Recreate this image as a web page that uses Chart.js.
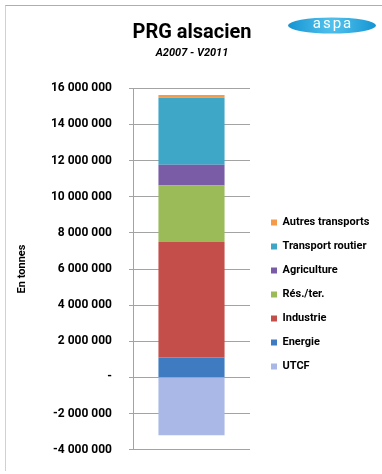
<!DOCTYPE html>
<html>
<head>
<meta charset="utf-8">
<title>PRG alsacien</title>
<script src="https://cdn.jsdelivr.net/npm/chart.js@4/dist/chart.umd.min.js"></script>
<style>
    body { margin: 0; background: #ffffff; }
    #wrap { position: relative; width: 382px; height: 474px; }
    #frame {
        position: absolute; left: 5px; top: 5px; right: 0; bottom: 3px;
        border-top: 1px solid #9fb2c4; border-left: 1px solid #c9d3dc;
    }
    #prgChart { position: absolute; left: 0; top: 0; }
</style>
</head>
<body>
<div id="wrap">
    <div id="frame"></div>
    <canvas id="prgChart" width="382" height="474"></canvas>
</div>
<script>
// Emissions PRG par secteur, en tonnes
let categories = [""];
let sectors = ["UTCF", "Energie", "Industrie", "Rés./ter.", "Agriculture", "Transport routier", "Autres transports"];
let utcf = [-3200000];
let energie = [1100000];
let industrie = [6400000];
let residentiel = [3120000];
let agriculture = [1150000];
let transportRoutier = [3700000];
let autresTransports = [150000];
let sectorColors = ["#a9b8e6", "#3f7bc1", "#c34e4a", "#9bbb59", "#7a5ca6", "#3ea7c7", "#f59a48"];
let yTicks = [-4000000, -2000000, 0, 2000000, 4000000, 6000000, 8000000, 10000000, 12000000, 14000000, 16000000];

const FONT = "Roboto";

let seriesValues = [utcf, energie, industrie, residentiel, agriculture, transportRoutier, autresTransports];
let datasets = sectors.map(function (name, i) {
    return {
        label: name,
        data: seriesValues[i],
        backgroundColor: sectorColors[i],
        borderWidth: 0,
        categoryPercentage: 1,
        barPercentage: 0.565
    };
});

function formatTonnes(v) {
    if (v === 0) return "-";
    return String(v).replace(/\B(?=(\d{3})+(?!\d))/g, " ");
}

// once the layout is done: titles centred on the whole page,
// legend put to the right of the plot
const placeBlocks = {
    id: "placeBlocks",
    afterLayout(chart) {
        chart.boxes.forEach(function (box) {
            if (box.options && box.options.position === "top") {
                box.left = 0;
                box.right = 384;
                box.width = 384;
            }
        });
        let legend = chart.legend;
        if (!legend) return;
        legend.left = 258;
        legend.right = 380;
        legend.top = 204;
        legend.bottom = 400;
    }
};

// aspa logo in the top right corner
const logo = {
    id: "logo",
    afterDraw(chart) {
        let ctx = chart.ctx;
        ctx.save();
        let grad = ctx.createRadialGradient(332, 24, 4, 332, 25, 44);
        grad.addColorStop(0, "#4fc0ec");
        grad.addColorStop(1, "#1594d2");
        ctx.fillStyle = grad;
        ctx.beginPath();
        ctx.ellipse(332, 25.5, 44, 8, 0, 0, Math.PI * 2);
        ctx.fill();
        ctx.fillStyle = "#ffffff";
        ctx.font = "15px " + FONT;
        ctx.letterSpacing = "2px";
        ctx.textAlign = "center";
        ctx.textBaseline = "middle";
        ctx.fillText("aspa", 333, 24);
        ctx.restore();
    }
};

new Chart(document.getElementById("prgChart").getContext("2d"), {
    type: "bar",
    data: {
        labels: categories,
        datasets: datasets
    },
    plugins: [placeBlocks, logo],
    options: {
        responsive: false,
        animation: false,
        layout: { padding: { left: 6, right: 132, top: 0, bottom: 22 } },
        plugins: {
            title: {
                display: true,
                text: "PRG alsacien",
                color: "#000000",
                font: { family: FONT, size: 20, weight: "bold", lineHeight: 1.2 },
                padding: { top: 21, bottom: 0 }
            },
            subtitle: {
                display: true,
                text: "A2007 - V2011",
                color: "#000000",
                font: { family: FONT, size: 11, weight: "bold", style: "italic", lineHeight: 1.2 },
                padding: { top: 2, bottom: 28 }
            },
            legend: {
                position: "chartArea",
                align: "start",
                reverse: true,
                labels: {
                    boxWidth: 6,
                    boxHeight: 6,
                    padding: 13,
                    color: "#000000",
                    font: { family: FONT, size: 11, weight: "bold" }
                }
            },
            tooltip: { enabled: false }
        },
        scales: {
            x: {
                stacked: true,
                display: false
            },
            y: {
                stacked: true,
                min: -4000000,
                max: 16000000,
                afterFit: function (scale) { scale.width = 127; },
                afterBuildTicks: function (scale) {
                    scale.ticks = yTicks.map(function (v) { return { value: v }; });
                },
                grid: { color: "#a3a3a3", tickLength: 4, lineWidth: 1 },
                border: { color: "#a3a3a3" },
                ticks: {
                    padding: 17,
                    color: "#000000",
                    font: { family: FONT, size: 12, weight: "bold" },
                    callback: function (v) { return formatTonnes(v); }
                },
                title: {
                    display: true,
                    text: "En tonnes",
                    color: "#000000",
                    font: { family: FONT, size: 11, weight: "bold", lineHeight: 1.2 },
                    padding: { top: 10, bottom: 0 }
                }
            }
        }
    }
});
</script>
</body>
</html>
